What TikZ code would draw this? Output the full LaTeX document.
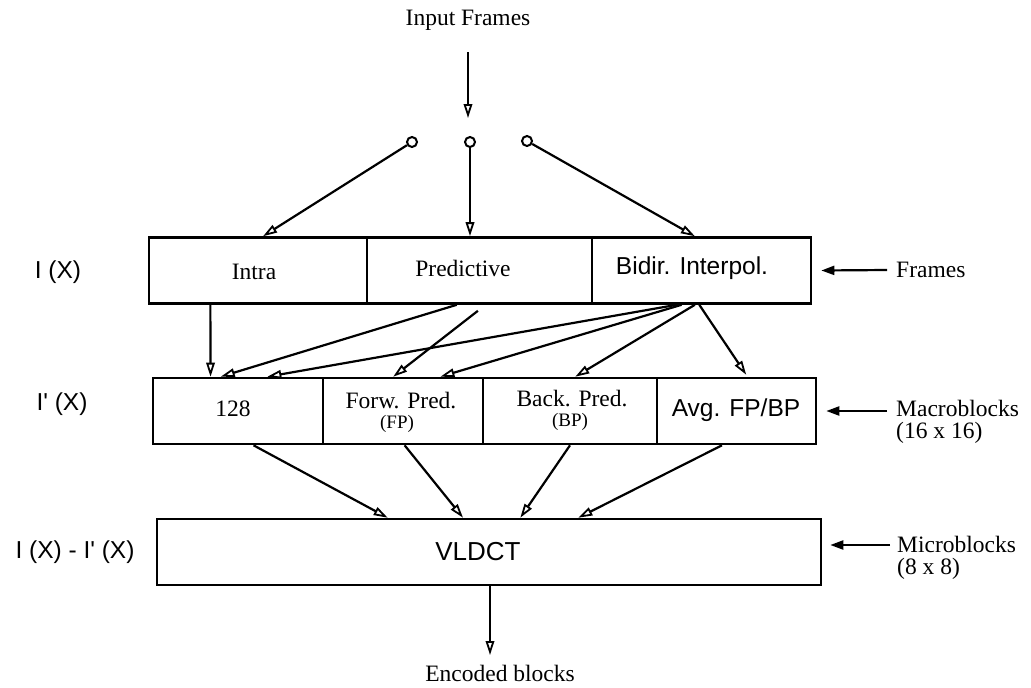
\documentclass[tikz,border=0pt]{standalone}
\usepackage{fontspec}
\setmainfont{Liberation Serif}
\newfontfamily\hv{Liberation Sans}
\usetikzlibrary{arrows.meta,calc}

\tikzset{
  cell/.style={draw, line width=2.6pt, rectangle, inner sep=0pt, minimum height=66pt},
  lbl/.style={inner sep=0pt, font=\fontsize{23.5}{25}\selectfont},
  slbl/.style={inner sep=0pt, font=\hv\fontsize{24.5}{26}\selectfont},
  sidelbl/.style={inner sep=0pt, anchor=west, align=left, font=\fontsize{23.5}{25}\selectfont},
  flow/.style={line width=2.2pt, -{Triangle[open, length=14pt, width=8.5pt, line width=1.8pt]}},
  point/.style={line width=2.2pt, -{Triangle[length=13pt, width=9pt]}},
  tap/.style={circle, draw, line width=2pt, inner sep=0pt, minimum size=10pt}
}

\begin{document}
\begin{tikzpicture}[x=1pt, y=-1pt]
\useasboundingbox (0,0) rectangle (1031,688);

% input
\node[lbl] (input) at (468,20) {Input Frames};
\node[tap] (t1) at (412,142) {};
\node[tap] (t2) at (470,142) {};
\node[tap] (t3) at (527,141) {};
\coordinate (inhit) at (468,118);

% frame types
\node[cell, minimum width=218pt] (intra) at (258,270.5) {};
\node[cell, minimum width=225pt] (pred)  at (479.5,270.5) {};
\node[cell, minimum width=219pt] (bidir) at (701.5,270.5) {};
\node[lbl] at (254,272) {Intra};
\node[lbl] at (463,268) {Predictive};
\node[slbl] at (692,268) {Bidir. Interpol.};

% macroblock types
\node[cell, minimum width=170pt] (m128) at (238,411) {};
\node[cell, minimum width=160pt] (forw) at (403,411) {};
\node[cell, minimum width=174pt] (back) at (570,411) {};
\node[cell, minimum width=159pt] (avg)  at (736.5,411) {};
\node[lbl] at (233,409) {128};
\node[lbl] at (401,401) {Forw. Pred.};
\node[lbl, font=\fontsize{19}{20}\selectfont] at (397,424) {(FP)};
\node[lbl] at (572,399) {Back. Pred.};
\node[lbl, font=\fontsize{19}{20}\selectfont] at (570,422) {(BP)};
\node[slbl] at (736,410) {Avg. FP/BP};

% transform
\node[cell, minimum width=664pt] (vldct) at (489,552) {};
\node[slbl, font=\hv\fontsize{26}{27}\selectfont] at (478,552) {VLDCT};
\node[lbl] (out) at (500,673) {Encoded blocks};
\coordinate (outhit) at (490,655);

% left labels
\node[slbl] at (58,272) {I (X)};
\node[slbl] at (62,404) {I' (X)};
\node[slbl] at (75,552) {I (X) - I' (X)};

% right labels
\node[sidelbl] (lframes) at (896,270) {Frames};
\node[sidelbl] (lmacro) at (896,422) {Macroblocks\\[-3pt](16 x 16)};
\node[sidelbl] (lmicro) at (897,558) {Microblocks\\[-3pt](8 x 8)};

% input arrow and taps
\draw[flow] (input.south |- 0,52) -- (inhit);
\draw[flow] (t1) -- ($(intra.north west)!0.523!(intra.north east)$);
\draw[flow] (t2) -- (t2 |- pred.north);
\draw[flow] (t3) -- ($(bidir.north west)!0.47!(bidir.north east)$);

% frames -> macroblocks
\draw[flow] ($(intra.south west)!0.284!(intra.south east)$) -- ($(m128.north west)!0.341!(m128.north east)$);
\draw[flow] ($(pred.south west)!0.4!(pred.south east)$) -- ($(m128.north west)!0.4!(m128.north east)$);
\draw[flow] ($(bidir.south west)!0.388!(bidir.south east)$) -- ($(m128.north west)!0.67!(m128.north east)$);
\draw[flow] ($(pred.south west)!0.493!(pred.south east)+(0,6)$) -- ($(forw.north west)!0.44!(forw.north east)$);
\draw[flow] ($(bidir.south west)!0.41!(bidir.south east)$) -- ($(forw.north west)!0.73!(forw.north east)$);
\draw[flow] ($(bidir.south west)!0.47!(bidir.south east)$) -- ($(back.north west)!0.53!(back.north east)$);
\draw[flow] ($(bidir.south west)!0.49!(bidir.south east)$) -- ($(avg.north west)!0.56!(avg.north east)+(0,-2)$);

% macroblocks -> transform
\draw[flow] ($(m128.south west)!0.59!(m128.south east)$) -- ($(vldct.north west)!0.348!(vldct.north east)$);
\draw[flow] ($(forw.south west)!0.51!(forw.south east)$) -- ($(vldct.north west)!0.461!(vldct.north east)$);
\draw[flow] ($(back.south west)!0.50!(back.south east)$) -- ($(vldct.north west)!0.547!(vldct.north east)$);
\draw[flow] ($(avg.south west)!0.41!(avg.south east)$) -- ($(vldct.north west)!0.634!(vldct.north east)$);

% output
\draw[flow] (vldct.south -| outhit) -- (outhit);

% level pointers
\draw[point] (lframes.west) ++(-9,0) -- ($(bidir.east)+(9,0)$);
\draw[point] (lmacro.west |- avg.east) ++(-9,0) -- ($(avg.east)+(9,0)$);
\draw[point] (lmicro.west |- 0,545) ++(-7,0) -- ($(vldct.east |- 0,545)+(8,0)$);
\end{tikzpicture}
\end{document}
